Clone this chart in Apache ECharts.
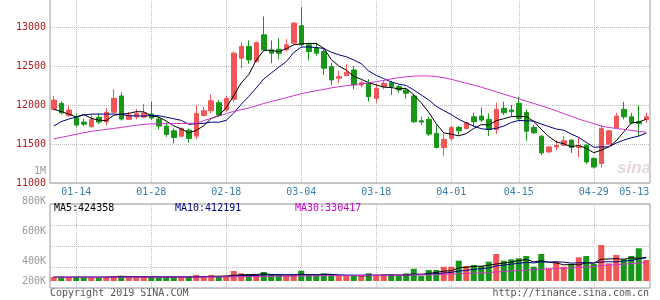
<!DOCTYPE html>
<html><head><meta charset="utf-8">
<script src="https://cdn.jsdelivr.net/npm/echarts@6/dist/echarts.min.js"></script>
<style>html,body{margin:0;padding:0;background:#fff}#c{width:660px;height:300px}</style>
</head><body><div id="c"></div>
<script>
const dates = ['01-09','01-10','01-11','01-14','01-15','01-16','01-17','01-18','01-21','01-22',
 '01-23','01-24','01-25','01-28','01-29','01-30','01-31','02-01','02-11','02-12',
 '02-13','02-14','02-15','02-18','02-19','02-20','02-21','02-22','02-25','02-26',
 '02-27','02-28','03-01','03-04','03-05','03-06','03-07','03-08','03-11','03-12',
 '03-13','03-14','03-15','03-18','03-19','03-20','03-21','03-22','03-25','03-26',
 '03-27','03-28','03-29','04-01','04-02','04-03','04-04','04-08','04-09','04-10',
 '04-11','04-12','04-15','04-16','04-17','04-18','04-19','04-22','04-23','04-24',
 '04-25','04-26','04-29','04-30','05-06','05-07','05-08','05-09','05-10','05-13'];
const opens = [11945,12022,11867,11837,11781,11721,11842,11785,11906,12116,
 11816,11849,11846,11884,11820,11730,11669,11601,11678,11601,
 11867,11927,12030,11936,12073,12601,12750,12557,12901,12708,
 12716,12708,12794,13017,12772,12730,12686,12493,12344,12377,
 12450,12257,12279,12086,12236,12287,12236,12193,12116,11798,
 11816,11636,11456,11571,11713,11700,11849,11858,11816,11687,
 11958,11936,12022,11903,11713,11601,11399,11463,11485,11550,
 11456,11485,11314,11250,11498,11713,11945,11849,11785,11816];
const closes = [12064,11901,11936,11743,11755,11816,11781,11906,12086,11820,
 11871,11893,11897,11833,11730,11623,11584,11700,11571,11893,
 11927,12055,11871,12086,12665,12750,12579,12801,12708,12665,
 12665,12772,13051,12772,12686,12665,12472,12322,12364,12421,
 12257,12287,12107,12215,12279,12236,12193,12151,11785,11781,
 11627,11456,11559,11713,11669,11772,11785,11807,11687,11945,
 11901,11914,11829,11665,11643,11386,11463,11481,11541,11456,
 11472,11270,11206,11700,11669,11858,11849,11772,11764,11849];
const lows = [11929,11880,11849,11721,11730,11713,11755,11739,11893,11800,
 11807,11816,11833,11813,11687,11592,11507,11588,11515,11559,
 11849,11893,11849,11914,12042,12472,12528,12545,12699,12537,
 12588,12686,12772,12750,12570,12631,12386,12257,12279,12373,
 12202,12228,12042,12030,12202,12129,12158,12081,11772,11743,
 11601,11443,11344,11541,11614,11687,11721,11785,11601,11627,
 11871,11858,11798,11541,11627,11357,11386,11421,11472,11386,
 11327,11241,11185,11198,11485,11700,11816,11755,11601,11772];
const highs = [12116,12048,11996,11893,11824,11880,11893,11961,12202,12161,
 11910,11952,12013,12042,11858,11781,11700,11713,11700,12000,
 11978,12138,12064,12116,12686,12801,12828,12815,13136,12828,
 12858,12845,13060,13257,12802,12802,12717,12544,12441,12528,
 12502,12313,12331,12279,12313,12313,12257,12215,12142,11849,
 11849,11743,11636,11730,11730,11785,11901,11970,11893,12030,
 12042,12000,12107,11945,11743,11614,11472,11550,11601,11559,
 11584,11498,11327,11743,11678,11901,12042,11901,12000,11901];
const ma5 = [11945,11916,11884,11846,11880,11830,11806,11800,11869,11882,
 11893,11915,11913,11863,11845,11795,11733,11694,11642,11674,
 11735,11829,11863,11966,12121,12285,12390,12576,12701,12701,
 12684,12722,12772,12785,12789,12789,12729,12583,12502,12449,
 12367,12330,12287,12257,12229,12225,12206,12215,12129,12029,
 11907,11760,11642,11627,11605,11634,11700,11749,11744,11799,
 11825,11851,11855,11851,11790,11687,11597,11528,11503,11465,
 11483,11444,11389,11421,11463,11541,11656,11770,11782,11818];
const ma10 = [11730,11788,11820,11846,11871,11884,11884,11884,11884,11881,
 11862,11861,11857,11866,11864,11844,11824,11804,11753,11760,
 11765,11781,11779,11804,11898,12010,12110,12220,12334,12411,
 12485,12556,12674,12743,12745,12737,12726,12678,12644,12619,
 12578,12530,12435,12380,12339,12296,12268,12251,12193,12129,
 12066,11983,11929,11878,11817,11771,11730,11696,11686,11702,
 11730,11776,11802,11798,11795,11756,11724,11692,11677,11628,
 11585,11521,11459,11462,11464,11512,11550,11580,11602,11641];
const ma30 = [11566,11585,11605,11625,11645,11662,11675,11688,11700,11713,
 11727,11740,11752,11758,11760,11761,11762,11763,11765,11768,
 11800,11830,11858,11890,11920,11940,11960,11990,12020,12045,
 12070,12095,12120,12145,12165,12185,12200,12220,12235,12248,
 12260,12272,12285,12300,12315,12335,12350,12362,12370,12374,
 12372,12365,12350,12330,12305,12280,12255,12228,12200,12170,
 12140,12110,12080,12050,12020,11990,11960,11925,11890,11855,
 11820,11790,11762,11730,11712,11700,11688,11675,11662,11650];
const volumes = [75000,78000,72000,76000,70000,74000,72000,80000,90000,96000,
 75000,72000,78000,80000,74000,76000,78000,72000,76000,110000,
 90000,107000,85000,95000,180000,137000,119000,101000,161000,115000,
 110000,95000,105000,185000,110000,105000,137000,120000,89000,89000,
 107000,89000,137000,119000,119000,119000,89000,137000,220000,89000,
 197000,197000,256000,256000,364000,268000,286000,268000,346000,483000,
 364000,388000,406000,447000,256000,483000,227000,346000,256000,304000,
 424000,447000,304000,644000,316000,465000,388000,447000,585000,376000];
const volMa5 = [68000,68000,68000,68000,68000,68000,67000,68000,71000,75000,
 76000,76000,75000,74000,70000,70000,71000,70000,69000,75000,
 78000,84000,86000,89000,102000,111000,113000,116000,129000,117000,
 111000,107000,108000,112000,111000,110000,118000,121000,103000,99000,
 99000,91000,94000,99000,105000,108000,108000,108000,126000,121000,
 134000,155000,177000,183000,234000,247000,263000,265000,282000,304000,
 321000,340000,365000,385000,342000,364000,335000,324000,289000,297000,
 286000,327000,319000,391000,393000,400000,389000,416000,405000,424358];
const volMa10 = [68000,68000,68000,68000,68000,68000,68000,68000,68000,72000,
 73000,72000,72000,73000,73000,74000,74000,73000,72000,73000,
 75000,77000,78000,79000,89000,95000,98000,101000,109000,109000,
 111000,110000,112000,121000,114000,111000,112000,114000,108000,106000,
 105000,105000,108000,101000,102000,104000,99000,101000,113000,113000,
 121000,132000,143000,155000,178000,190000,209000,221000,233000,269000,
 284000,302000,316000,333000,323000,343000,338000,345000,337000,320000,
 326000,331000,322000,340000,345000,343000,358000,368000,398000,412191];
const volMa30 = [66000,66000,66000,67000,67000,67000,67000,68000,68000,68000,
 68000,68000,69000,69000,69000,69000,70000,70000,70000,71000,
 72000,73000,74000,75000,77000,78000,80000,81000,83000,85000,
 86000,86000,87000,91000,92000,93000,95000,96000,96000,96000,
 97000,97000,99000,100000,102000,103000,103000,105000,110000,109000,
 112000,115000,120000,125000,131000,135000,140000,145000,151000,162000,
 170000,179000,188000,196000,201000,212000,215000,222000,227000,234000,
 243000,254000,260000,276000,282000,292000,301000,311000,322000,330417];
const gridDates = ['01-14','01-28','02-18','03-04','03-18','04-01','04-15','04-29'];
const endDate = '05-13';
const priceTicks = [11000, 11500, 12000, 12500, 13000];
const volTickValues = [200000, 400000, 600000, 800000, 1000000];
const volTickLabels = ['200K', '400K', '600K', '800K', '1M'];
const volLegend = [['MA5', 424358], ['MA10', 412191], ['MA30', 330417]];
const copyrightText = 'Copyright 2019 SINA.COM';
const urlText = 'http://finance.sina.com.cn';
const watermarkText = 'sina';

const MONO = '"DejaVu Sans Mono", monospace';
const RED = '#f05656', GREEN = '#179617';
const MA_COLORS = ['#000000', '#000080', '#cc33cc'];
const LEGEND_COLORS = ['#000000', '#000080', '#cc00cc'];
const GRIDLINE = {color: '#bbbbbb', type: 'dotted', width: 1};
const BORDER = '#999999';

const kData = dates.map((d, i) => [opens[i], closes[i], lows[i], highs[i]]);
const showDate = (i, v) => gridDates.indexOf(v) >= 0;
const showLabel = (i, v) => gridDates.indexOf(v) >= 0 || v === endDate;

const chart = echarts.init(document.getElementById('c'), null, {renderer: 'canvas'});
const option = {
  animation: false,
  backgroundColor: '#ffffff',
  grid: [
    {left: 50, right: 10, top: -1, height: 184, show: true, borderColor: BORDER, borderWidth: 1, backgroundColor: 'transparent', containLabel: false, outerBoundsMode: 'none'},
    {left: 50, right: 10, top: 204, height: 84, show: true, borderColor: BORDER, borderWidth: 1, backgroundColor: 'transparent', containLabel: false, outerBoundsMode: 'none'},
    {left: 50, right: 10, top: 171, height: 120, show: false, containLabel: false, outerBoundsMode: 'none'}
  ],
  xAxis: [
    {type: 'category', gridIndex: 0, data: dates, boundaryGap: true,
     axisLine: {show: false}, axisTick: {show: false},
     axisLabel: {interval: showLabel, margin: 4, color: '#3a7fa8', fontFamily: MONO, fontSize: 10,
       formatter: v => v === endDate ? '{end|' + v + '}' : v,
       rich: {end: {padding: [0, 24, 0, 0], color: '#3a7fa8', fontFamily: MONO, fontSize: 10}}},
     splitLine: {show: true, interval: showDate, alignWithLabel: true, lineStyle: GRIDLINE}},
    {type: 'category', gridIndex: 1, data: dates, boundaryGap: true,
     axisLine: {show: false}, axisTick: {show: false}, axisLabel: {show: false},
     splitLine: {show: true, interval: showDate, alignWithLabel: true, lineStyle: GRIDLINE}},
    {type: 'value', gridIndex: 2, show: false, min: 0, max: 1}
  ],
  yAxis: [
    {type: 'value', gridIndex: 0, min: 11000, max: 13360, interval: 500, scale: true,
     axisLine: {show: false}, axisTick: {show: false},
     axisLabel: {showMaxLabel: false, margin: 4, color: '#b01c1c', fontFamily: MONO, fontSize: 10,
       formatter: v => priceTicks.indexOf(v) >= 0 ? String(v) : ''},
     splitLine: {show: true, lineStyle: GRIDLINE}},
    {type: 'value', gridIndex: 1, min: -125000, max: 1378000,
     axisLine: {show: false}, axisTick: {show: false}, axisLabel: {show: false}, splitLine: {show: false}},
    {type: 'value', gridIndex: 1, position: 'right', min: 0, max: 4, interval: 1,
     axisLine: {show: false}, axisTick: {show: false}, axisLabel: {show: false},
     splitLine: {show: true, lineStyle: GRIDLINE}},
    {type: 'value', gridIndex: 2, min: 200000, max: 1000000, interval: 200000,
     axisLine: {show: false}, axisTick: {show: false}, splitLine: {show: false},
     axisLabel: {margin: 4, color: '#999999', fontFamily: MONO, fontSize: 10,
       showMinLabel: true, showMaxLabel: true,
       formatter: v => {
         const k = volTickValues.indexOf(v);
         if (k < 0) return '';
         return k === 0 ? '{low|' + volTickLabels[k] + '}' : volTickLabels[k];
       },
       rich: {low: {padding: [0, 0, 20, 0], color: '#999999', fontFamily: MONO, fontSize: 10}}}}
  ],
  series: [
    {type: 'candlestick', xAxisIndex: 0, yAxisIndex: 0, data: kData, barWidth: 5,
     itemStyle: {color: RED, color0: GREEN, borderColor: RED, borderColor0: GREEN, borderWidth: 1}},
    {type: 'line', xAxisIndex: 0, yAxisIndex: 0, data: ma5, symbol: 'none', lineStyle: {color: MA_COLORS[0], width: 1}, z: 5},
    {type: 'line', xAxisIndex: 0, yAxisIndex: 0, data: ma10, symbol: 'none', lineStyle: {color: MA_COLORS[1], width: 1}, z: 5},
    {type: 'line', xAxisIndex: 0, yAxisIndex: 0, data: ma30, symbol: 'none', lineStyle: {color: MA_COLORS[2], width: 1}, z: 5},
    {type: 'bar', xAxisIndex: 1, yAxisIndex: 1, data: volumes, barWidth: 6,
     itemStyle: {color: p => closes[p.dataIndex] >= opens[p.dataIndex] ? RED : GREEN}},
    {type: 'line', xAxisIndex: 1, yAxisIndex: 1, data: volMa5, symbol: 'none', lineStyle: {color: MA_COLORS[0], width: 1}, z: 5},
    {type: 'line', xAxisIndex: 1, yAxisIndex: 1, data: volMa10, symbol: 'none', lineStyle: {color: MA_COLORS[1], width: 1}, z: 5},
    {type: 'line', xAxisIndex: 1, yAxisIndex: 1, data: volMa30, symbol: 'none', lineStyle: {color: MA_COLORS[2], width: 1}, z: 5}
  ],
  graphic: [
    {type: 'text', left: 54, top: 203, z: 10, style: {text: volLegend[0][0] + ':' + volLegend[0][1], fill: LEGEND_COLORS[0], font: '10px ' + MONO}},
    {type: 'text', left: 175, top: 203, z: 10, style: {text: volLegend[1][0] + ':' + volLegend[1][1], fill: LEGEND_COLORS[1], font: '10px ' + MONO}},
    {type: 'text', left: 295, top: 203, z: 10, style: {text: volLegend[2][0] + ':' + volLegend[2][1], fill: LEGEND_COLORS[2], font: '10px ' + MONO}},
    {type: 'text', left: 50, top: 288, style: {text: copyrightText, fill: '#555555', font: '10px ' + MONO}},
    {type: 'text', right: 11, top: 288, style: {text: urlText, fill: '#555555', font: '10px ' + MONO}},
    {type: 'text', left: 617, top: 160, z: 0, style: {text: watermarkText, fill: '#e6d8d8', font: 'italic bold 17px "Liberation Sans", Arial, sans-serif'}}
  ]
};
chart.setOption(option);
</script></body></html>
